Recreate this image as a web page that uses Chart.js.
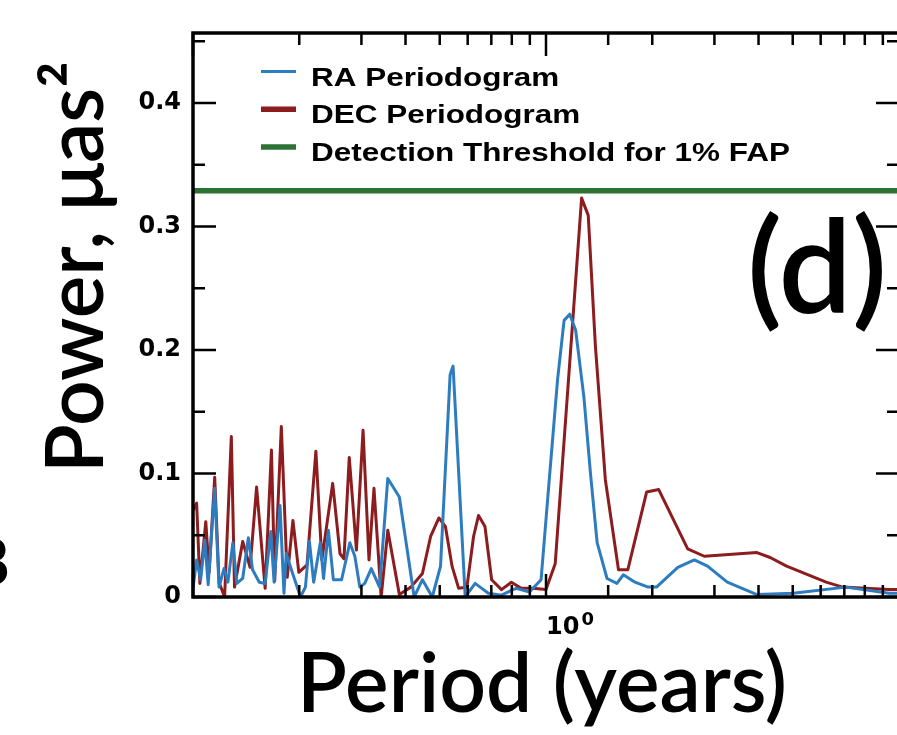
<!DOCTYPE html>
<html>
<head>
<meta charset="utf-8">
<script src="https://cdn.jsdelivr.net/npm/chart.js@4.4.1/dist/chart.umd.min.js"></script>
<style>
  html, body { margin: 0; padding: 0; background: #fff; overflow: hidden; }
  canvas { display: block; }
</style>
</head>
<body>
<canvas id="periodogram" width="915" height="735"></canvas>
<script>
// periods in years, power in micro-arcsec^2
const raPeriod = [0.100, 0.1024, 0.1051, 0.108, 0.1104, 0.1152, 0.1185, 0.1224, 0.1256, 0.1297, 0.1331, 0.1383, 0.1435, 0.1475, 0.1541, 0.1601, 0.1661, 0.1697, 0.1764, 0.181, 0.1837, 0.191, 0.2016, 0.2082, 0.2137, 0.2197, 0.2294, 0.2343, 0.2419, 0.2498, 0.2636, 0.2782, 0.2874, 0.2969, 0.3066, 0.3199, 0.3377, 0.3563, 0.3842, 0.4232, 0.4466, 0.4763, 0.5026, 0.535, 0.5454, 0.5904, 0.6299, 0.6576, 0.6866, 0.7481, 0.8066, 0.8241, 0.8979, 0.9683, 1.0215, 1.0783, 1.1253, 1.1674, 1.2134, 1.2803, 1.3367, 1.3959, 1.4892, 1.588, 1.657, 1.787, 1.9467, 2.0557, 2.3629, 2.6315, 2.868, 3.2623, 3.9592, 5.0152, 7.0727, 9.3756, 10];
const raPower = [0.007, 0.030, 0.014, 0.046, 0.010, 0.088, 0.008, 0.023, 0.012, 0.044, 0.011, 0.015, 0.048, 0.022, 0.012, 0.011, 0.053, 0.012, 0.074, 0.003, 0.035, 0.020, 0.000, 0.008, 0.045, 0.012, 0.044, 0.015, 0.054, 0.014, 0.014, 0.044, 0.033, 0.008, 0.011, 0.023, 0.008, 0.096, 0.081, 0.000, 0.014, 0.000, 0.025, 0.180, 0.187, 0.000, 0.011, 0.007, 0.003, 0.0015, 0.006, 0.007, 0.004, 0.014, 0.095, 0.176, 0.224, 0.229, 0.216, 0.162, 0.100, 0.044, 0.015, 0.011, 0.018, 0.012, 0.008, 0.008, 0.024, 0.030, 0.025, 0.012, 0.002, 0.003, 0.008, 0.003, 0.003];

const decPeriod = [0.1, 0.1024, 0.1046, 0.1087, 0.1111, 0.1152, 0.1185, 0.1229, 0.1284, 0.1311, 0.1383, 0.1451, 0.1514, 0.1601, 0.1668, 0.1704, 0.1779, 0.1849, 0.1919, 0.1994, 0.2104, 0.2229, 0.2317, 0.2487, 0.2609, 0.2677, 0.2771, 0.2904, 0.3032, 0.3152, 0.3256, 0.3412, 0.3563, 0.3842, 0.4141, 0.4466, 0.4711, 0.4973, 0.5189, 0.5418, 0.5657, 0.597, 0.6234, 0.6439, 0.6716, 0.7014, 0.7481, 0.7979, 0.8511, 0.9178, 1.0, 1.0619, 1.2615, 1.3172, 1.3804, 1.4727, 1.6045, 1.7048, 1.9275, 2.0861, 2.5199, 2.8064, 3.9592, 4.3152, 4.8036, 6.2181, 6.9231, 9.3756, 10];
const decPower = [0.07, 0.076, 0.011, 0.061, 0.020, 0.097, 0.012, 0.000, 0.130, 0.008, 0.045, 0.024, 0.089, 0.007, 0.119, 0.013, 0.138, 0.016, 0.062, 0.020, 0.026, 0.118, 0.030, 0.092, 0.035, 0.031, 0.113, 0.038, 0.135, 0.030, 0.088, 0.000, 0.054, 0.002, 0.008, 0.019, 0.049, 0.064, 0.057, 0.025, 0.007, 0.008, 0.049, 0.066, 0.057, 0.014, 0.006, 0.012, 0.007, 0.007, 0.006, 0.027, 0.323, 0.309, 0.203, 0.095, 0.022, 0.022, 0.085, 0.087, 0.039, 0.033, 0.036, 0.032, 0.025, 0.012, 0.008, 0.006, 0.006];

const thresholdPeriod = [0.1, 10];
const thresholdPower = [0.329, 0.329];

const seriesLabels = ['RA Periodogram', 'DEC Periodogram', 'Detection Threshold for 1% FAP'];
const seriesColors = ['#2e7cc0', '#8c1c1e', '#2c7234'];
const legendWidths = [3, 5.5, 5.5];

const xTitle = 'Period (years)';
const yTitle = 'Power, \u03bcas\u00b2';
const panelLabel = '(d)';

const tickFont = '"DejaVu Sans", "Liberation Sans", sans-serif';
const titleFont = 'Lato, "Open Sans", sans-serif';

function pairs(xs, ys) {
  return xs.map((x, i) => ({x: x, y: ys[i]}));
}

function isDecade(v) {
  const l = Math.log10(v);
  return Math.abs(l - Math.round(l)) < 1e-6;
}

function isTenth(v) {
  return Math.abs(v * 10 - Math.round(v * 10)) < 1e-6;
}

// frame and inward tick marks on all four sides
const frameTicks = {
  id: 'frameTicks',
  afterDatasetsDraw(chart) {
    const ctx = chart.ctx;
    const a = chart.chartArea;
    const x = chart.scales.x, y = chart.scales.y;
    ctx.save();
    ctx.strokeStyle = '#000';
    ctx.lineWidth = 2.5;
    ctx.beginPath();
    x.ticks.forEach(t => {
      const px = x.getPixelForValue(t.value);
      const len = isDecade(t.value) ? 23 : 12;
      ctx.moveTo(px, a.bottom); ctx.lineTo(px, a.bottom - len);
      ctx.moveTo(px, a.top); ctx.lineTo(px, a.top + len);
    });
    y.ticks.forEach(t => {
      const py = y.getPixelForValue(t.value);
      const len = isTenth(t.value) ? 23 : 12;
      ctx.moveTo(a.left, py); ctx.lineTo(a.left + len, py);
      ctx.moveTo(a.right, py); ctx.lineTo(a.right - len, py);
    });
    ctx.stroke();
    ctx.lineWidth = 3.5;
    ctx.strokeRect(a.left, a.top, a.right - a.left, a.bottom - a.top);
    ctx.restore();
  }
};

// legend inside the plot, axis titles, exponent and the panel letter
const labels = {
  id: 'labels',
  afterDraw(chart) {
    const ctx = chart.ctx;
    const x = chart.scales.x;
    ctx.save();
    ctx.fillStyle = '#000';

    // legend (the figure's Helvetica is stretched sideways)
    ctx.textBaseline = 'alphabetic';
    ctx.textAlign = 'left';
    chart.data.datasets.forEach((ds, i) => {
      const base = 85.5 + i * 37.8;
      ctx.strokeStyle = ds.borderColor;
      ctx.lineWidth = legendWidths[i];
      ctx.beginPath();
      ctx.moveTo(261, base - 14);
      ctx.lineTo(296, base - 14);
      ctx.stroke();
      ctx.save();
      ctx.translate(311, base);
      ctx.scale(1.21, 1);
      ctx.font = 'bold 26px "Liberation Sans", Arial, sans-serif';
      ctx.fillText(ds.label, 0, 0);
      ctx.restore();
    });

    // superscript on the 10^0 tick label
    const p1 = x.getPixelForValue(1);
    ctx.font = 'bold 24px ' + tickFont;
    const w10 = ctx.measureText('10').width;
    ctx.font = 'bold 18px ' + tickFont;
    ctx.textBaseline = 'top';
    ctx.fillText('0', p1 + w10 + 2, 611);

    ctx.textBaseline = 'alphabetic';
    ctx.font = '600 82px ' + titleFont;
    ctx.textAlign = 'center';
    ctx.fillText(xTitle, 542, 712);

    ctx.save();
    ctx.translate(103, 267);
    ctx.rotate(-Math.PI / 2);
    ctx.font = '600 80px ' + titleFont;
    ctx.fillText(yTitle, 0, 0);
    ctx.restore();

    ctx.font = '600 130px ' + titleFont;
    ctx.textAlign = 'left';
    ctx.fillText(panelLabel, 747, 312);

    // edge of the neighbouring panel's letter
    ctx.font = '600 66px ' + titleFont;
    ctx.textAlign = 'right';
    ctx.fillText('8', 10, 585);
    ctx.restore();
  }
};

const ctx = document.getElementById('periodogram').getContext('2d');
new Chart(ctx, {
  type: 'line',
  data: {
    datasets: [{
      label: seriesLabels[0],
      data: pairs(raPeriod, raPower),
      borderColor: seriesColors[0],
      borderWidth: 3
    }, {
      label: seriesLabels[1],
      data: pairs(decPeriod, decPower),
      borderColor: seriesColors[1],
      borderWidth: 3
    }, {
      label: seriesLabels[2],
      data: pairs(thresholdPeriod, thresholdPower),
      borderColor: seriesColors[2],
      borderWidth: 5.5
    }]
  },
  options: {
    responsive: false,
    animation: false,
    devicePixelRatio: 1,
    layout: { padding: { top: 33, right: 8, left: 0, bottom: 0 } },
    elements: {
      point: { radius: 0 },
      line: { tension: 0, fill: false, borderJoinStyle: 'round' }
    },
    plugins: {
      legend: { display: false },
      tooltip: { enabled: false }
    },
    scales: {
      x: {
        type: 'logarithmic',
        min: 0.1,
        max: 10,
        grid: { display: false, drawTicks: false },
        border: { display: false },
        ticks: {
          autoSkip: false,
          maxRotation: 0,
          align: 'start',
          padding: 16,
          color: '#000',
          font: { family: tickFont, size: 24, weight: 'bold' },
          callback: v => (Math.abs(v - 1) < 1e-9 ? '10' : '')
        },
        afterFit: scale => { scale.height = 138; }
      },
      y: {
        min: 0,
        max: 0.4567,
        grid: { display: false, drawTicks: false },
        border: { display: false },
        ticks: {
          stepSize: 0.05,
          includeBounds: false,
          autoSkip: false,
          padding: 12,
          color: '#000',
          font: { family: tickFont, size: 24, weight: 'bold' },
          callback: v => (isTenth(v) ? (Math.abs(v) < 1e-9 ? '0' : v.toFixed(1)) : '')
        },
        afterFit: scale => { scale.width = 193; }
      }
    }
  },
  plugins: [frameTicks, labels]
});
</script>
</body>
</html>
